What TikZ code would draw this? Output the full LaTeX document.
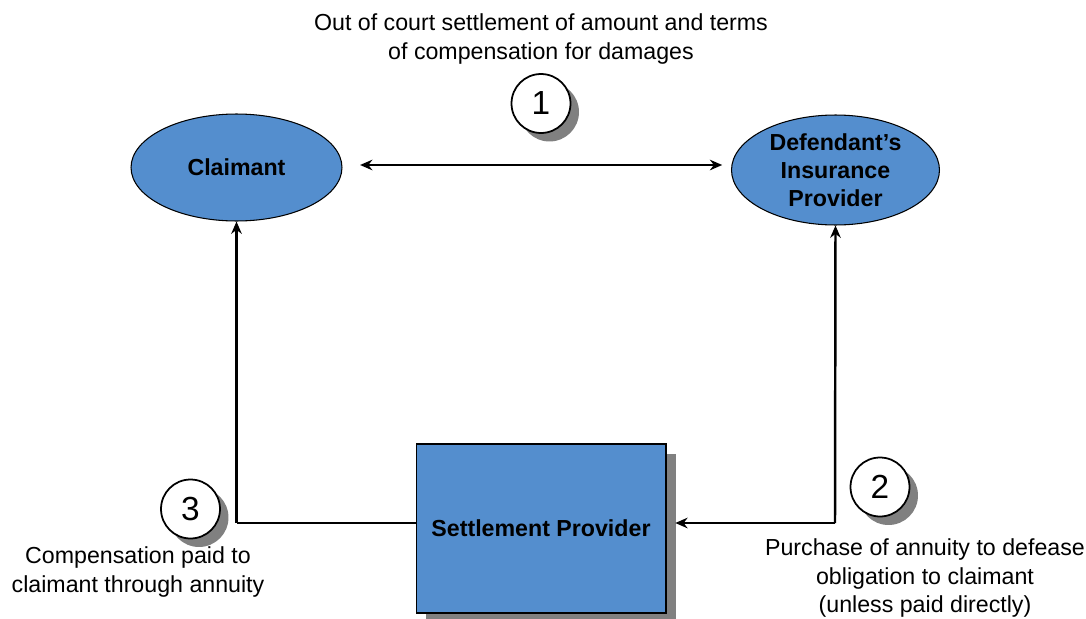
\documentclass[tikz,border=0pt]{standalone}
\usepackage{fontspec}
\setmainfont{Liberation Sans}
\usepackage{tikz}
\usetikzlibrary{
    positioning,
    arrows.meta,
    shapes,
    shapes.geometric,
    shadows
}
\definecolor{PartyBlue}{RGB}{84,142,206}
\definecolor{ShadowGray}{RGB}{128,128,128}

\begin{document}
\begin{tikzpicture}[
            x=0.02cm, y=-0.02cm,
            font=\fontsize{13.2}{16}\selectfont,
            >={Stealth[length=7pt,width=6pt]},
            line width=1.4pt,
            party/.style={ellipse, draw, line width=0.6pt, fill=PartyBlue, inner sep=0pt, align=center, font=\fontsize{13.2}{16}\selectfont\bfseries},
            agent/.style={rectangle, draw, line width=0.6pt, fill=PartyBlue, minimum width=5cm, minimum height=3.38cm, align=center, font=\fontsize{13.2}{16}\selectfont\bfseries,
                drop shadow={shadow xshift=0.2cm, shadow yshift=-0.2cm, fill=ShadowGray, opacity=1}},
            stepno/.style={circle, draw, line width=1pt, fill=white, minimum size=1.18cm, inner sep=0pt, font=\fontsize{19}{22}\selectfont,
                drop shadow={shadow xshift=0.17cm, shadow yshift=-0.17cm, fill=ShadowGray, opacity=1}},
            note/.style={align=center},
        ]
        \useasboundingbox (0,0) rectangle (1086,619);

        % ===== PARTIES =====
        \node[party, minimum width=4.22cm, minimum height=2.14cm] (claimant) at (236.5,167.5) {Claimant};
        \node[party, minimum width=4.16cm, minimum height=2.2cm] (insurer) at (835.5,170) {Defendant's\\Insurance\\Provider};
        \node[agent] (provider) at (541,528.5) {Settlement Provider};

        % ===== STEP 1: settlement =====
        \node[note] (note1) at (541,39) {Out of court settlement of amount and terms\\of compensation for damages};
        \node[stepno] (num1) at (541,103.5) {1};
        \draw[<->] ([xshift=10pt]claimant.east |- 0,165) -- ([xshift=-5pt]insurer.west |- 0,165);

        % ===== STEP 2: annuity purchase =====
        \coordinate (turn2) at (835,523);
        \draw[->] (turn2) -- (insurer.south);
        \draw[->] (turn2) -- ([xshift=5pt]provider.east |- turn2);
        \node[stepno] (num2) at (880,487) {2};
        \node[note] (note2) at (925,578) {Purchase of annuity to defease\\obligation to claimant\\(unless paid directly)};

        % ===== STEP 3: compensation =====
        \coordinate (turn3) at (236.5,523);
        \draw (provider.west |- turn3) -- (turn3);
        \draw[->] (turn3) -- (claimant.south);
        \node[stepno] (num3) at (190.5,509) {3};
        \node[note] (note3) at (138,572) {Compensation paid to\\claimant through annuity};
\end{tikzpicture}
\end{document}
